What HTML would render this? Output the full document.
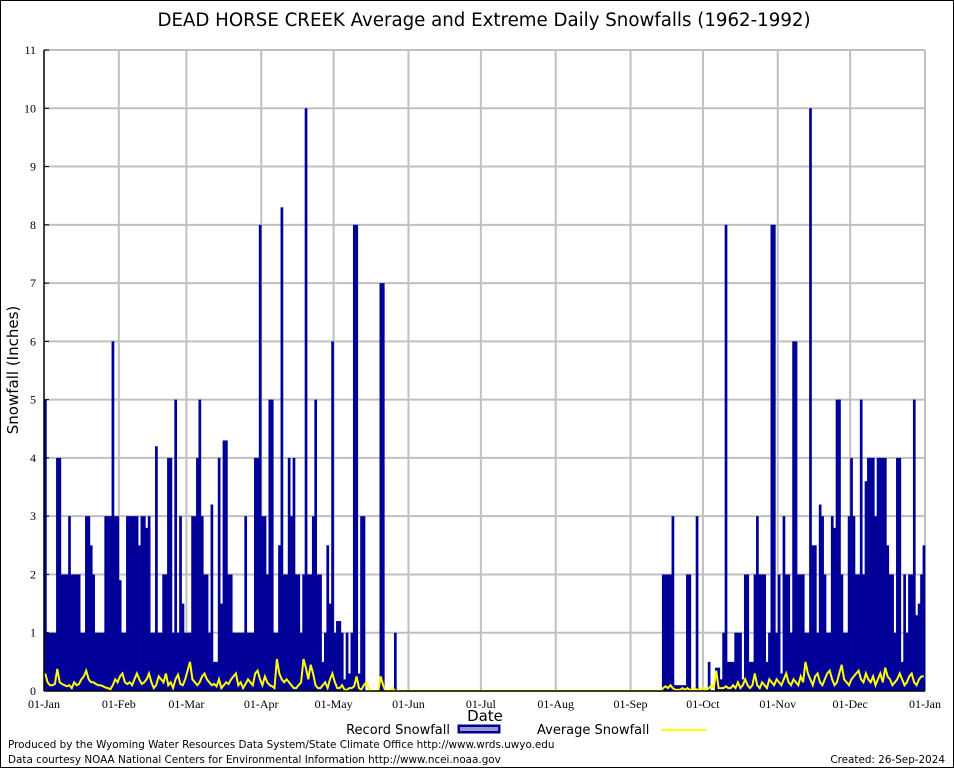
<!DOCTYPE html>
<html><head><meta charset="utf-8"><style>
html,body{margin:0;padding:0;background:#fff}
svg{display:block}
</style></head><body>
<svg id="chart" width="954" height="768" viewBox="0 0 954 768" xmlns="http://www.w3.org/2000/svg">
<rect x="0.5" y="0.5" width="953" height="767" fill="#fff" stroke="#000" stroke-width="1"/>
<text x="484" y="26" text-anchor="middle" font-family="DejaVu Sans, sans-serif" font-size="18.2">DEAD HORSE CREEK Average and Extreme Daily Snowfalls (1962-1992)</text>
<text transform="translate(18,370) rotate(-90)" text-anchor="middle" font-family="DejaVu Sans, sans-serif" font-size="15">Snowfall (Inches)</text>
<text x="485" y="721" text-anchor="middle" font-family="DejaVu Sans, sans-serif" font-size="15">Date</text>
<g id="grid"></g>
<g id="bars"></g>
<path id="avgline" fill="none" stroke="#ffff00" stroke-width="2"/>
<g id="axes"></g>
<g font-family="DejaVu Sans, sans-serif" font-size="13">
<text x="450" y="734" text-anchor="end">Record Snowfall</text>
<rect x="458" y="725" width="42" height="8" fill="#000099" stroke="#000099"/>
<rect x="460" y="727" width="38" height="4" fill="#9999cc"/>
<text x="537" y="734">Average Snowfall</text>
<line x1="662" y1="730" x2="706" y2="730" stroke="#ffff00" stroke-width="2"/>
</g>
<g font-family="DejaVu Sans, sans-serif" font-size="10.4">
<text x="8" y="748">Produced by the Wyoming Water Resources Data System/State Climate Office http://www.wrds.uwyo.edu</text>
<text x="8" y="763">Data courtesy NOAA National Centers for Environmental Information http://www.ncei.noaa.gov</text>
<text x="945" y="763" text-anchor="end">Created: 26-Sep-2024</text>
</g>
</svg>
<script>
const monthLabels = ["01-Jan","01-Feb","01-Mar","01-Apr","01-May","01-Jun","01-Jul","01-Aug","01-Sep","01-Oct","01-Nov","01-Dec","01-Jan"];
const monthStartDays = [0,31,59,90,120,151,181,212,243,273,304,334,365];
const yTicks = [0,1,2,3,4,5,6,7,8,9,10,11];
const recordJan = [5,1,1,1,1,4,4,2,2,2,3,2,2,2,2,1,1,3,3,2.5,2,1,1,1,1,3,3,3,6,3,3];
const recordFeb = [1.9,1,1,3,3,3,3,3,2.5,3,3,2.8,3,1,1,4.2,1,1,2,2,4,4,1,5,1,3,1.5,1];
const recordMar = [1,1,3,3,4,5,3,2,2,1,3.2,0.5,0.5,4,1.5,4.3,4.3,2,2,1,1,1,1,1,3,1,1,1,4,4,8];
const recordApr = [3,3,2,5,5,1,1,2.5,8.3,2,2,4,3,4,2,2,1,2,10,2,2,3,5,2,2,0.5,1,2.5,1.5,6];
const recordMay = [1,1.2,1.2,1,0.2,1,0.3,1,8,8,0.3,3,3,0,0,0,0,0,0,7,7,0,0,0,0,1,0,0,0,0,0];
const recordJun = [0,0,0,0,0,0,0,0,0,0,0,0,0,0,0,0,0,0,0,0,0,0,0,0,0,0,0,0,0,0];
const recordJul = [0,0,0,0,0,0,0,0,0,0,0,0,0,0,0,0,0,0,0,0,0,0,0,0,0,0,0,0,0,0,0];
const recordAug = [0,0,0,0,0,0,0,0,0,0,0,0,0,0,0,0,0,0,0,0,0,0,0,0,0,0,0,0,0,0,0];
const recordSep = [0,0,0,0,0,0,0,0,0,0,0,0,0,2,2,2,2,3,0.1,0.1,0.1,0.1,0.1,2,2,0,0,3,0,0];
const recordOct = [0,0,0.5,0,0,0.4,0.4,0.2,1,8,0.5,0.5,0.5,1,1,1,0.2,2,2,0.5,0.5,2,3,2,2,2,0.5,1,8,8,1];
const recordNov = [2,0.3,3,2,2,1,6,6,2,2,2,1,1,10,2.5,2.5,1,3.2,3,2,1,1,3,2.8,5,5,2,1,1,3];
const recordDec = [4,3,2,2,5,2,3.6,4,4,4,3,4,4,4,4,2.5,2,2,1,4,4,0.5,2,1,2,2,5,1.3,1.5,2,2.5];
const avgJan = [0.3,0.15,0.1,0.1,0.12,0.38,0.15,0.12,0.1,0.08,0.1,0.05,0.15,0.1,0.12,0.2,0.25,0.35,0.2,0.15,0.15,0.12,0.1,0.1,0.08,0.06,0.05,0.03,0.1,0.2,0.15];
const avgFeb = [0.25,0.3,0.15,0.12,0.15,0.1,0.2,0.3,0.2,0.12,0.15,0.2,0.3,0.15,0.05,0.1,0.25,0.2,0.15,0.3,0.1,0.15,0.05,0.2,0.28,0.12,0.1,0.2];
const avgMar = [0.35,0.5,0.2,0.15,0.1,0.15,0.25,0.3,0.2,0.15,0.1,0.12,0.08,0.2,0.05,0.1,0.15,0.12,0.2,0.25,0.3,0.1,0.15,0.05,0.12,0.2,0.15,0.1,0.3,0.35,0.2];
const avgApr = [0.1,0.25,0.15,0.1,0.08,0.05,0.55,0.3,0.2,0.15,0.2,0.15,0.1,0.05,0.05,0.1,0.15,0.55,0.4,0.2,0.45,0.3,0.1,0.05,0.05,0.1,0.15,0.05,0.2,0.3];
const avgMay = [0.15,0.05,0.05,0.1,0.02,0.02,0.05,0.05,0.08,0.25,0.05,0.02,0.1,0.15,0.05,0,0,0,0,0.25,0.1,0,0,0,0.05,0,0,0,0,0,0];
const avgJun = [0,0,0,0,0,0,0,0,0,0,0,0,0,0,0,0,0,0,0,0,0,0,0,0,0,0,0,0,0,0];
const avgJul = [0,0,0,0,0,0,0,0,0,0,0,0,0,0,0,0,0,0,0,0,0,0,0,0,0,0,0,0,0,0,0];
const avgAug = [0,0,0,0,0,0,0,0,0,0,0,0,0,0,0,0,0,0,0,0,0,0,0,0,0,0,0,0,0,0,0];
const avgSep = [0,0,0,0,0,0,0,0,0,0,0,0,0,0.05,0.08,0.05,0.1,0.05,0.02,0.02,0.02,0.05,0.02,0.05,0.02,0.02,0.05,0.02,0.02,0.05];
const avgOct = [0.05,0.02,0.05,0.1,0.05,0.35,0.05,0.05,0.05,0.08,0.05,0.05,0.1,0.05,0.15,0.05,0.1,0.2,0.1,0.05,0.1,0.3,0.1,0.05,0.15,0.1,0.05,0.2,0.15,0.1,0.2];
const avgNov = [0.15,0.1,0.2,0.3,0.15,0.1,0.2,0.15,0.1,0.25,0.15,0.5,0.3,0.2,0.1,0.25,0.3,0.15,0.1,0.2,0.3,0.35,0.2,0.1,0.15,0.3,0.45,0.2,0.15,0.1];
const avgDec = [0.2,0.25,0.3,0.35,0.2,0.15,0.3,0.2,0.15,0.25,0.1,0.2,0.3,0.15,0.4,0.25,0.2,0.1,0.15,0.2,0.3,0.2,0.1,0.15,0.25,0.3,0.15,0.1,0.2,0.25,0.25];

const record = [].concat(recordJan,recordFeb,recordMar,recordApr,recordMay,recordJun,recordJul,recordAug,recordSep,recordOct,recordNov,recordDec);
const average = [].concat(avgJan,avgFeb,avgMar,avgApr,avgMay,avgJun,avgJul,avgAug,avgSep,avgOct,avgNov,avgDec);

const NS = "http://www.w3.org/2000/svg";
const X0 = 44, X1 = 925, Y0 = 691, Y1 = 50, YMAX = 11, NDAYS = 365;
function xScale(d){ return X0 + (X1 - X0) * d / NDAYS; }
function yScale(v){ return Y0 - (Y0 - Y1) * v / YMAX; }
function mk(tag, attrs, parent){
  const e = document.createElementNS(NS, tag);
  for (const k in attrs) e.setAttribute(k, attrs[k]);
  parent.appendChild(e); return e;
}
const grid = document.getElementById('grid');
const axes = document.getElementById('axes');
const bars = document.getElementById('bars');

yTicks.forEach(function(t){
  const y = yScale(t);
  if (t > 0) {
    const g = mk('line', {x1:X0, x2:X1, y1:y, y2:y, stroke:'#c0c0c0', 'stroke-width':2}, grid);
    
    
  }
  const tk = mk('line', {x1:X0, x2:X0+5, y1:y, y2:y, stroke:'#000', 'stroke-width':1}, axes);
  
  
  const lb = mk('text', {x:X0-8, y:y+4, 'text-anchor':'end', 'font-family':'Liberation Serif, serif', 'font-size':12}, axes);
  lb.textContent = String(t);
  
  
});
monthStartDays.forEach(function(d, i){
  const x = xScale(d);
  if (i > 0) {
    const g = mk('line', {x1:x, x2:x, y1:Y1, y2:Y0, stroke:'#c0c0c0', 'stroke-width':2}, grid);
    
    
  }
  const lb = mk('text', {x:x, y:708, 'text-anchor':'middle', 'font-family':'Liberation Serif, serif', 'font-size':12}, axes);
  lb.textContent = monthLabels[i];
  
  
});
const w = (X1 - X0) / NDAYS;
record.forEach(function(v, d){
  if (v <= 0) return;
  const y = yScale(v);
  const r = mk('rect', {x:xScale(d), y:y, width:w+0.3, height:Y0-y, fill:'#000099'}, bars);
  
  
});
let p = '';
average.forEach(function(v, d){
  p += (d ? 'L' : 'M') + (xScale(d)+w/2).toFixed(1) + ',' + yScale(v).toFixed(1);
});
document.getElementById('avgline').setAttribute('d', p);
const la = mk('line', {x1:X0, x2:X0, y1:Y1, y2:Y0, stroke:'#000', 'stroke-width':1.5}, axes);


const ba = mk('line', {x1:X0, x2:X1, y1:Y0, y2:Y0, stroke:'#000', 'stroke-width':1.5}, axes);


</script>
</body></html>
